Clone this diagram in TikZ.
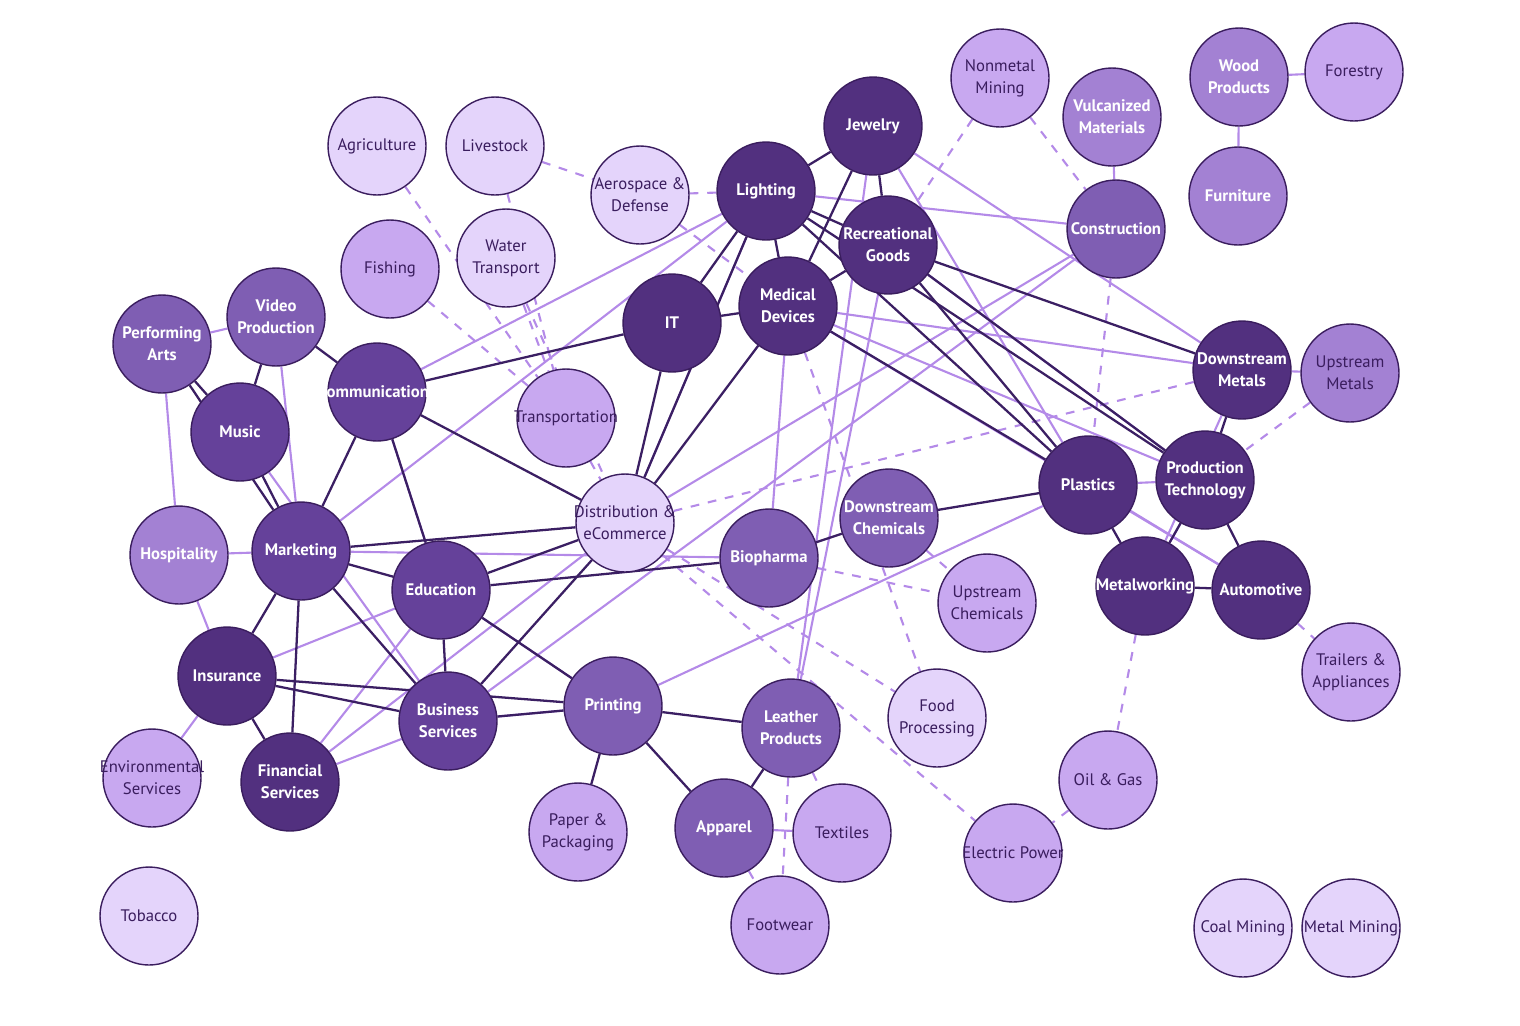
\documentclass[tikz,border=0pt]{standalone}
\usepackage{fontspec}
\setmainfont{PT Sans}
\pgfdeclarelayer{bg}
\pgfsetlayers{bg,main}
\definecolor{ca}{HTML}{52307F}
\definecolor{cb}{HTML}{65419A}
\definecolor{cc}{HTML}{7F5EB3}
\definecolor{cd}{HTML}{A381D3}
\definecolor{ce}{HTML}{C8A8F0}
\definecolor{cf}{HTML}{E4D4FB}
\definecolor{bd}{HTML}{3A1D5E}
\definecolor{ed}{HTML}{3B1F63}
\definecolor{el}{HTML}{B48AE8}
\tikzset{
 nd/.style={circle,draw=bd,line width=0.8pt,minimum size=1.96cm,inner sep=0pt},
 dk/.style={align=center,text=white,font=\fontsize{9.5}{12.5}\selectfont\bfseries,inner sep=0pt},
 lt/.style={align=center,text=bd,font=\fontsize{9.5}{12.5}\selectfont,inner sep=0pt},
 D/.style={draw=ed,line width=1.3pt},
 L/.style={draw=el,line width=1.2pt},
 S/.style={draw=el,line width=1.2pt,dashed,dash pattern=on 5pt off 5pt},
}
\newcommand{\NN}[6]{\node[nd,fill=#2] (#3) at (#4,#5) {}; \node[#1] (#3-t) at (#3) {#6};}
\begin{document}
\begin{tikzpicture}[x=0.02cm,y=-0.02cm]
\useasboundingbox (0,0) rectangle (1520,1025);
\NN{lt}{cf}{agr}{377}{146}{Agriculture}
\NN{lt}{cf}{liv}{495}{146}{Livestock}
\NN{lt}{cf}{aer}{640}{195}{Aerospace \&\\Defense}
\NN{lt}{cf}{wat}{506}{258}{Water\\Transport}
\NN{lt}{ce}{fis}{390}{269}{Fishing}
\NN{dk}{cc}{vid}{276}{317}{Video\\Production}
\NN{dk}{cc}{per}{162}{344}{Performing\\Arts}
\NN{dk}{cb}{com}{377}{392}{Communications}
\NN{dk}{cb}{mus}{240}{432}{Music}
\NN{lt}{ce}{tra}{566}{418}{Transportation}
\NN{dk}{ca}{it}{672}{323}{IT}
\NN{dk}{ca}{lig}{766}{191}{Lighting}
\NN{dk}{ca}{jew}{873}{126}{Jewelry}
\NN{dk}{ca}{med}{788}{306}{Medical\\Devices}
\NN{dk}{ca}{rec}{888}{245}{Recreational\\Goods}
\NN{lt}{ce}{non}{1000}{78}{Nonmetal\\Mining}
\NN{dk}{cd}{vul}{1112}{117}{Vulcanized\\Materials}
\NN{dk}{cd}{woo}{1239}{77}{Wood\\Products}
\NN{lt}{ce}{for}{1354}{72}{Forestry}
\NN{dk}{cd}{fur}{1238}{196}{Furniture}
\NN{dk}{cc}{con}{1116}{229}{Construction}
\NN{dk}{ca}{dme}{1242}{370}{Downstream\\Metals}
\NN{lt}{cd}{ume}{1350}{373}{Upstream\\Metals}
\NN{dk}{ca}{pla}{1088}{485}{Plastics}
\NN{dk}{ca}{pro}{1205}{480}{Production\\Technology}
\NN{dk}{ca}{mwk}{1145}{586}{Metalworking}
\NN{dk}{ca}{aut}{1261}{590}{Automotive}
\NN{lt}{ce}{trl}{1351}{672}{Trailers \&\\Appliances}
\NN{lt}{ce}{oil}{1108}{780}{Oil \& Gas}
\NN{lt}{ce}{ele}{1013}{853}{Electric Power}
\NN{lt}{cf}{coa}{1243}{928}{Coal Mining}
\NN{lt}{cf}{mem}{1351}{928}{Metal Mining}
\NN{dk}{cd}{hos}{179}{555}{Hospitality}
\NN{dk}{cb}{mar}{301}{551}{Marketing}
\NN{lt}{cf}{dis}{625}{523}{Distribution \&\\eCommerce}
\NN{dk}{cb}{edu}{441}{590}{Education}
\NN{dk}{cc}{bio}{769}{558}{Biopharma}
\NN{dk}{cc}{dch}{889}{518}{Downstream\\Chemicals}
\NN{lt}{ce}{uch}{987}{603}{Upstream\\Chemicals}
\NN{dk}{ca}{ins}{227}{676}{Insurance}
\NN{lt}{ce}{env}{152}{778}{Environmental\\Services}
\NN{dk}{ca}{fin}{290}{782}{Financial\\Services}
\NN{dk}{cb}{bus}{448}{721}{Business\\Services}
\NN{dk}{cc}{pri}{613}{706}{Printing}
\NN{dk}{cc}{lea}{791}{728}{Leather\\Products}
\NN{lt}{cf}{foo}{937}{718}{Food\\Processing}
\NN{lt}{ce}{pap}{578}{832}{Paper \&\\Packaging}
\NN{dk}{cc}{app}{724}{828}{Apparel}
\NN{lt}{ce}{tex}{842}{833}{Textiles}
\NN{lt}{ce}{fwr}{780}{925}{Footwear}
\NN{lt}{cf}{tob}{149}{916}{Tobacco}
\begin{pgfonlayer}{bg}
\foreach \a/\b in {agr/tra,liv/tra,liv/aer,wat/tra,fis/tra,wat/dis,aer/lig,aer/med,non/rec,non/con,con/pla,ume/dme,ume/pro,dme/dis,mwk/oil,oil/ele,aut/trl,dch/uch,bio/uch,dis/foo,dis/ele,med/foo,lea/tex,lea/fwr,app/fwr,tra/dis}
 \draw[S] (\a) -- (\b);
\foreach \a/\b in {hos/per,hos/mar,hos/ins,env/ins,vid/per,vid/mar,mus/bus,com/lig,com/edu,mar/lig,fin/dis,fin/edu,fin/bus,ins/edu,bus/pri,bus/con,pri/pla,edu/pri,mar/bio,bio/med,lig/con,jew/dme,jew/pla,lea/rec,lea/jew,med/dme,med/pro,med/aut,rec/pro,woo/fur,woo/for,vul/con,pla/pro,dme/mwk,pla/aut,pro/mwk,dis/con,app/tex,lig/dis}
 \draw[L] (\a) -- (\b);
\foreach \a/\b in {per/mus,mus/mar,per/mar,vid/mus,vid/com,com/it,com/dis,com/mar,com/edu,mar/dis,mar/edu,mar/ins,mar/fin,mar/bus,edu/dis,edu/bio,edu/bus,edu/pri,ins/bus,ins/fin,ins/pri,bus/dis,bus/pri,pri/lea,pri/pap,pri/app,lea/app,it/lig,it/med,it/dis,lig/dis,med/dis,lig/med,lig/jew,lig/rec,lig/pla,lig/pro,jew/med,jew/rec,rec/med,rec/pla,rec/pro,rec/dme,med/pla,pla/dch,bio/dch,pla/mwk,pro/dme,pro/mwk,pro/aut,mwk/aut}
 \draw[D] (\a) -- (\b);
\end{pgfonlayer}
\end{tikzpicture}
\end{document}
